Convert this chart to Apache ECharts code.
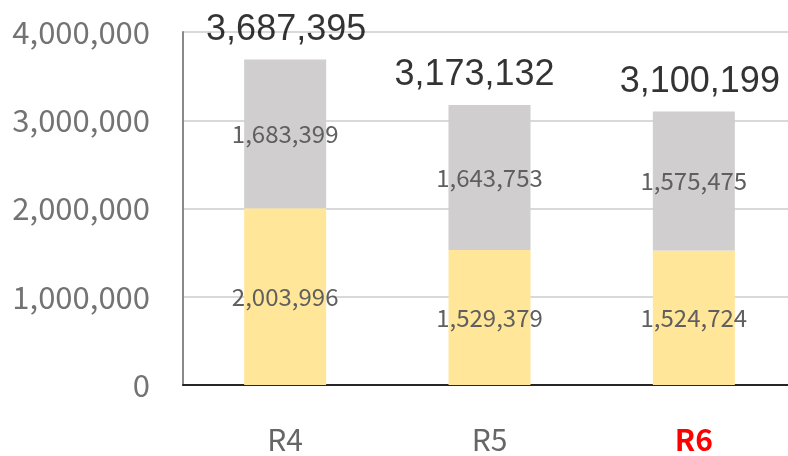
<!DOCTYPE html>
<html>
<head>
<meta charset="utf-8">
<script src="https://cdn.jsdelivr.net/npm/echarts@6/dist/echarts.min.js"></script>
<style>
html,body{margin:0;padding:0;background:#fff;}
#chart{width:788px;height:456px;}
</style>
</head>
<body>
<div id="chart"></div>
<script>
const categories = ['R4', 'R5', 'R6'];
const lowerValues = [2003996, 1529379, 1524724];
const upperValues = [1683399, 1643753, 1575475];
const totalValues = [3687395, 3173132, 3100199];
const yTicks = [0, 1000000, 2000000, 3000000, 4000000];

const totalLabelShift = [1, -15, 6];
const fmt = v => Number(v).toLocaleString('en-US');
const jpFont = '"Noto Sans CJK JP", "Noto Sans", sans-serif';

const chart = echarts.init(document.getElementById('chart'), null, {renderer: 'canvas'});
chart.setOption({
  animation: false,
  backgroundColor: '#ffffff',
  grid: {left: 183, width: 613, top: 32, height: 353, containLabel: false, outerBoundsMode: 'none'},
  xAxis: {
    type: 'category',
    data: categories,
    axisLine: {show: true, lineStyle: {color: '#262626', width: 2}},
    axisTick: {show: false},
    axisLabel: {
      margin: 40,
      fontFamily: jpFont,
      fontSize: 30,
      color: '#666666',
      formatter: function (v) { return v === 'R6' ? '{hl|' + v + '}' : v; },
      rich: {hl: {color: '#ff0000', fontWeight: 'bold', fontFamily: jpFont, fontSize: 30}}
    }
  },
  yAxis: {
    type: 'value',
    min: yTicks[0],
    max: yTicks[yTicks.length - 1],
    interval: yTicks[1] - yTicks[0],
    axisLine: {show: true, lineStyle: {color: '#898989', width: 2}},
    axisTick: {show: false},
    splitLine: {show: true, lineStyle: {color: '#d9d9d9', width: 2}},
    axisLabel: {
      margin: 33,
      fontFamily: jpFont,
      fontSize: 31,
      color: '#737373',
      formatter: v => fmt(v)
    }
  },
  series: [
    {
      name: 'lower',
      type: 'bar',
      stack: 'total',
      data: lowerValues,
      barWidth: 82,
      itemStyle: {color: '#ffe699'},
      label: {show: true, position: 'inside', fontFamily: jpFont, fontSize: 24, color: '#5f5f5f', formatter: p => fmt(p.value)}
    },
    {
      name: 'upper',
      type: 'bar',
      stack: 'total',
      data: upperValues,
      barWidth: 82,
      itemStyle: {color: '#d0cece'},
      label: {show: true, position: 'inside', fontFamily: jpFont, fontSize: 24, color: '#5f5f5f', formatter: p => fmt(p.value)}
    },
    {
      name: 'total',
      type: 'scatter',
      symbol: 'circle',
      symbolSize: 1,
      data: totalValues.map((v, i) => ({
        value: v,
        label: {offset: [totalLabelShift[i], 0]}
      })),
      itemStyle: {color: 'rgba(0,0,0,0)'},
      label: {
        show: true,
        position: 'top',
        distance: 11,
        fontFamily: '"Liberation Sans", Arial, sans-serif',
        fontSize: 36,
        color: '#000000',
        formatter: p => fmt(p.value)
      },
      z: 10
    }
  ]
});
</script>
</body>
</html>
